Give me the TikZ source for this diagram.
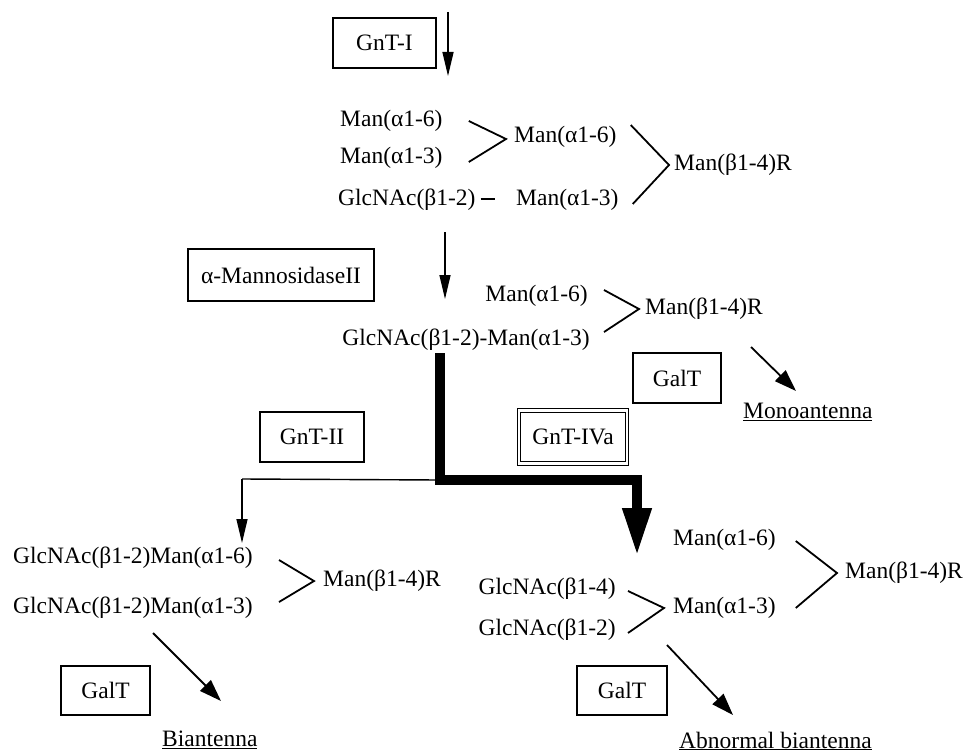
\documentclass[tikz,border=0pt]{standalone}
\usepackage{fontspec}
\setmainfont{Liberation Serif}
\usetikzlibrary{arrows.meta,calc}
\begin{document}
\begin{tikzpicture}[x=1pt,y=-1pt,
  txt/.style={inner sep=0pt,font=\fontsize{23.5}{28}\selectfont},
  enz/.style={draw,line width=1.3pt,inner sep=0pt,font=\fontsize{23.5}{28}\selectfont},
  thinarrow/.style={line width=1.4pt,-{Triangle[length=24pt,width=11pt]}},
  diagarrow/.style={line width=1.8pt,-{Triangle[length=22pt,width=15pt]}},
  chev/.style={line width=1.8pt},
  heavyarrow/.style={line width=10pt,line join=miter,-{Triangle[length=48pt,width=27pt]}}]
\useasboundingbox[fill=white] (0,0) rectangle (963,752);

% enzyme boxes
\node[enz,minimum width=103pt,minimum height=50pt] (gnt1) at (384.5,43) {GnT-I};
\node[enz,minimum width=186pt,minimum height=52pt] (mann) at (281,275) {α-MannosidaseII};
\node[enz,minimum width=88pt,minimum height=50pt] (galtA) at (677,378) {GalT};
\node[enz,minimum width=104pt,minimum height=50pt] (gnt2) at (312,437) {GnT-II};
\node[enz,double,double distance=2.5pt,line width=1.2pt,minimum width=108pt,minimum height=53pt] (gnt4) at (573,437) {GnT-IVa};
\node[enz,minimum width=89pt,minimum height=49pt] (galtB) at (105.5,690.5) {GalT};
\node[enz,minimum width=90pt,minimum height=49pt] (galtC) at (622,690.5) {GalT};

% top block
\node[txt,anchor=west] (a16) at (340,121) {Man(α1-6)};
\node[txt,anchor=west] (a13) at (340,158) {Man(α1-3)};
\node[txt,anchor=west] (ag) at (338,200) {GlcNAc(β1-2)};
\node[txt,anchor=west] (b16) at (514,137) {Man(α1-6)};
\node[txt,anchor=west] (b13) at (516,200) {Man(α1-3)};
\node[txt,anchor=west] (cR) at (674,165) {Man(β1-4)R};
\draw[line width=1.3pt] ($(ag.east)+(5,-1)$) -- ($(ag.east)+(19,-1)$);
\draw[chev] ($(a16.east)+(26,0)$) -- ($(b16.west)+(-8,2)$) -- ($(a13.east)+(26,4)$);
\draw[chev] ($(b16.east)+(14,-12)$) -- ($(cR.west)+(-5,0)$) -- ($(b13.east)+(14,4)$);

% arrow GnT-I
\coordinate (s1) at (448,12);
\coordinate (e1) at (448,76);
\draw[thinarrow] (s1) -- (e1);

% middle block
\coordinate (s2) at (445,232);
\coordinate (e2) at (445,299);
\draw[thinarrow] (s2) -- (e2);
\node[txt,anchor=east] (m16) at (588,296) {Man(α1-6)};
\node[txt,anchor=east] (m13) at (590,340) {GlcNAc(β1-2)-Man(α1-3)};
\node[txt,anchor=west] (mR) at (645,309) {Man(β1-4)R};
\draw[chev] ($(m16.east)+(16,-6)$) -- ($(mR.west)+(-6,0)$) -- ($(m13.east)+(14,-8)$);
\node[txt,anchor=west] (mono) at (743,412) {\underline{Monoantenna}};
\coordinate (s3) at (751,347);
\draw[diagarrow] (s3) -- ($(mono.north west)+(53,-12)$);

% heavy path and branch
\coordinate (h0) at (440,353);
\coordinate (h1) at (440,480);
\coordinate (h2) at (637,480);
\coordinate (h3) at (637,556);
\coordinate (br) at (242,479);
\coordinate (bt) at (242,543);
\draw[line width=1.4pt] (h1) -- (br);
\draw[thinarrow] (br) -- (bt);
\draw[heavyarrow] (h0) -- (h1) -- (h2) -- (h3);

% bottom left
\node[txt,anchor=west] (l16) at (13,558) {GlcNAc(β1-2)Man(α1-6)};
\node[txt,anchor=west] (l13) at (13,608) {GlcNAc(β1-2)Man(α1-3)};
\node[txt,anchor=west] (lR) at (323,581) {Man(β1-4)R};
\draw[chev] (279,560) -- ($(lR.west)+(-9,0)$) -- (279,602);
\node[txt,anchor=west] (bian) at (162,740) {\underline{Biantenna}};
\coordinate (s4) at (153,633);
\draw[diagarrow] (s4) -- (221,701);

% bottom right
\node[txt,anchor=west] (r16) at (673,540) {Man(α1-6)};
\node[txt,anchor=west] (r13) at (673,608) {Man(α1-3)};
\node[txt,anchor=east] (g14) at (616,589) {GlcNAc(β1-4)};
\node[txt,anchor=east] (g12) at (616,630) {GlcNAc(β1-2)};
\node[txt,anchor=west] (rR) at (845,573) {Man(β1-4)R};
\draw[chev] ($(g14.east)+(12,2)$) -- ($(r13.west)+(-9,0)$) -- ($(g12.east)+(12,3)$);
\draw[chev] ($(r16.east)+(20,1)$) -- ($(rR.west)+(-8,0)$) -- ($(r13.east)+(20,0)$);
\node[txt,anchor=west] (abn) at (679,741) {\underline{Abnormal biantenna}};
\coordinate (s5) at (667,645);
\draw[diagarrow] (s5) -- (733,715);
\end{tikzpicture}
\end{document}
